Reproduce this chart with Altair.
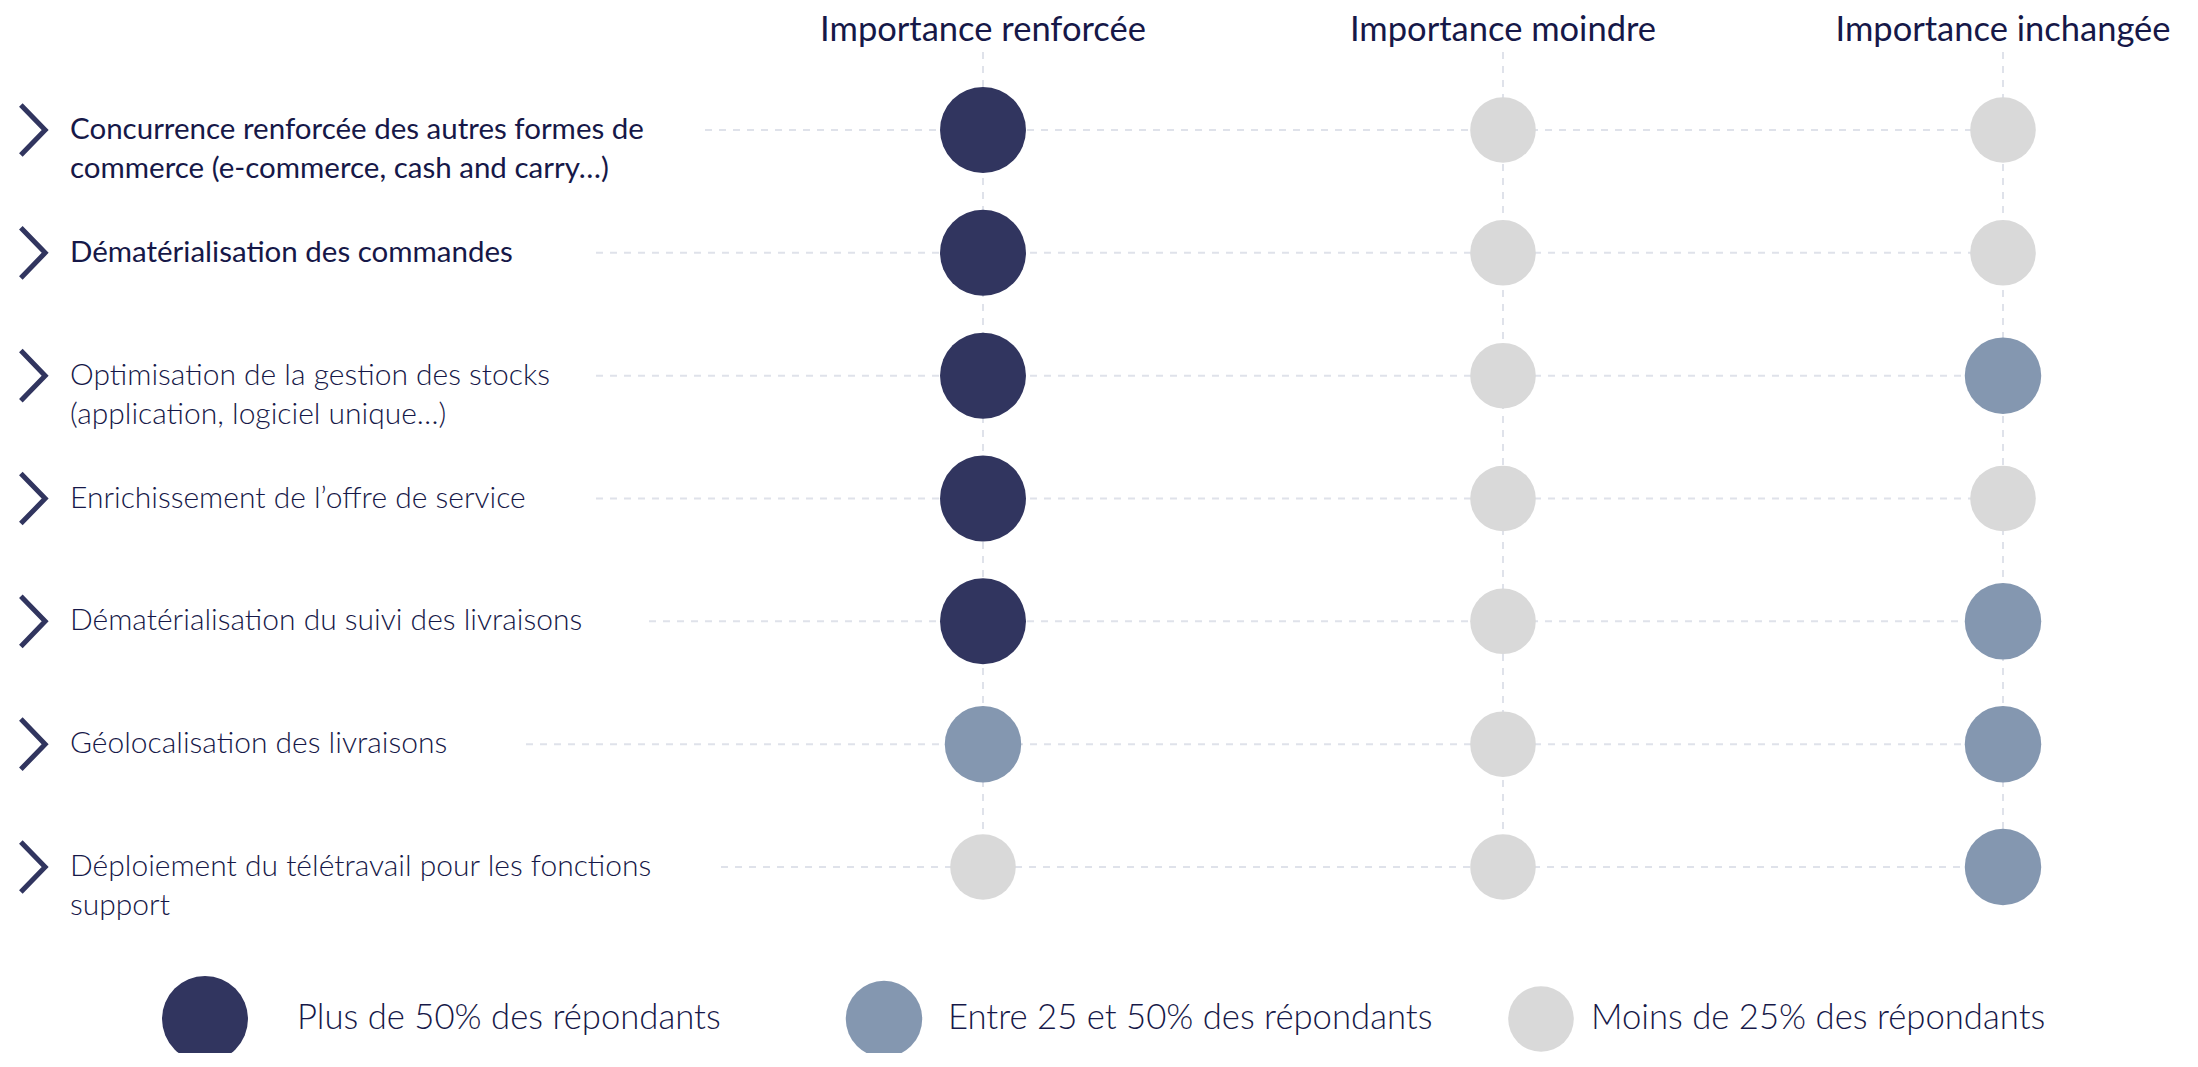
import altair as alt
import pandas as pd

# ---------------- data ----------------
COLUMNS = ["Importance renforcée", "Importance moindre", "Importance inchangée"]

ROW_LABELS = [
    ["Concurrence renforcée des autres formes de", "commerce (e-commerce, cash and carry…)"],
    ["Dématérialisation des commandes"],
    ["Optimisation de la gestion des stocks", "(application, logiciel unique…)"],
    ["Enrichissement de l’offre de service"],
    ["Dématérialisation du suivi des livraisons"],
    ["Géolocalisation des livraisons"],
    ["Déploiement du télétravail pour les fonctions", "support"],
]
HIGHLIGHTED = [True, True, False, False, False, False, False]

LEVELS = [
    "Plus de 50% des répondants",
    "Entre 25 et 50% des répondants",
    "Moins de 25% des répondants",
]
HIGH, MID, LOW = LEVELS

RENFORCEE = [HIGH, HIGH, HIGH, HIGH, HIGH, MID, LOW]
MOINDRE = [LOW, LOW, LOW, LOW, LOW, LOW, LOW]
INCHANGEE = [LOW, LOW, MID, LOW, MID, MID, MID]

# ---------------- style / layout ----------------
W, H = 2180, 1045
FONT = "Lato"
TEXT_COLOR = "#161848"
LEVEL_COLORS = ["#31355f", "#8497b0", "#d9d9d9"]
LEVEL_SIZES = [7390, 4301, 2124]
GRID_COLOR = "#dfe2ea"
COL_X = [975, 1495, 1995]
ROW_Y = [122, 859]
LINE_START = [697, 588, 588, 588, 641, 518, 713]
LEGEND_CIRCLE_X = [197, 876, 1533]
LEGEND_TEXT_X = [289, 940, 1583]
LEGEND_Y = 1011
HEADER_Y = 23
VLINE_TOP = 44

n_rows = len(ROW_LABELS)
rows_df = pd.DataFrame({
    "ri": list(range(n_rows)),
    "label": ROW_LABELS,
    "hl": HIGHLIGHTED,
    "start": LINE_START,
})

cells = []
for ci, vals in enumerate([RENFORCEE, MOINDRE, INCHANGEE]):
    for ri, v in enumerate(vals):
        cells.append({"ri": ri, "col": ci, "level": v})
cells_df = pd.DataFrame(cells)

cols_df = pd.DataFrame({"col": list(range(len(COLUMNS))), "name": COLUMNS})
legend_df = pd.DataFrame({"idx": list(range(len(LEVELS))), "level": LEVELS})

y_scale = alt.Scale(domain=[0, n_rows - 1], range=ROW_Y)
col_scale = alt.Scale(domain=[0, 1, 2], range=COL_X)
color_scale = alt.Scale(domain=LEVELS, range=LEVEL_COLORS)
size_scale = alt.Scale(domain=LEVELS, range=LEVEL_SIZES)

Y = alt.Y("ri:Q", scale=y_scale, axis=None)

hrules = alt.Chart(rows_df).mark_rule(
    color=GRID_COLOR, strokeWidth=2, strokeDash=[7, 7]
).encode(
    x=alt.X("start:Q", scale=None, axis=None),
    x2=alt.value(COL_X[-1]),
    y=Y,
)

vrules = alt.Chart(cols_df).mark_rule(
    color=GRID_COLOR, strokeWidth=2, strokeDash=[7, 7]
).encode(
    x=alt.X("col:Q", scale=col_scale, axis=None),
    y=alt.value(VLINE_TOP),
    y2=alt.value(ROW_Y[1]),
)

circles = alt.Chart(cells_df).mark_circle(opacity=1).encode(
    x=alt.X("col:Q", scale=col_scale, axis=None),
    y=Y,
    color=alt.Color("level:N", scale=color_scale, legend=None),
    size=alt.Size("level:N", scale=size_scale, legend=None),
)

headers = alt.Chart(cols_df).mark_text(
    font=FONT, fontSize=34.5, fontWeight=400, color=TEXT_COLOR,
    align="center", baseline="middle",
).encode(
    x=alt.X("col:Q", scale=col_scale, axis=None),
    y=alt.value(HEADER_Y),
    text="name:N",
)

label_base = alt.Chart(rows_df)
labels_hl = label_base.transform_filter("datum.hl").mark_text(
    font=FONT, fontSize=29.5, fontWeight=400, color=TEXT_COLOR,
    align="left", baseline="middle", lineHeight=39,
).encode(x=alt.value(62), y=Y, text="label")
labels_lt = label_base.transform_filter("!datum.hl").mark_text(
    font=FONT, fontSize=30, fontWeight=300, color=TEXT_COLOR,
    align="left", baseline="middle", lineHeight=39,
).encode(x=alt.value(62), y=Y, text="label")

chevrons = alt.Chart(rows_df).mark_point(
    shape="M-0.45,-0.93L0.45,0L-0.45,0.93",
    filled=False, stroke="#31355f", strokeWidth=5, opacity=1,
    strokeJoin="miter", strokeCap="butt",
).encode(x=alt.value(25), y=Y, size=alt.value(2916))

legend_circles = alt.Chart(legend_df).mark_circle(opacity=1).encode(
    x=alt.X("idx:Q", scale=alt.Scale(domain=[0, 1, 2], range=LEGEND_CIRCLE_X), axis=None),
    y=alt.value(LEGEND_Y),
    color=alt.Color("level:N", scale=color_scale, legend=None),
    size=alt.Size("level:N", scale=size_scale, legend=None),
)
legend_text = alt.Chart(legend_df).mark_text(
    font=FONT, fontSize=34.7, fontWeight=300, color=TEXT_COLOR,
    align="left", baseline="middle",
).encode(
    x=alt.X("idx:Q", scale=alt.Scale(domain=[0, 1, 2], range=LEGEND_TEXT_X), axis=None),
    y=alt.value(LEGEND_Y),
    text="level:N",
)

chart = alt.layer(
    hrules, vrules, circles, headers, labels_hl, labels_lt, chevrons,
    legend_circles, legend_text,
).resolve_scale(x="independent").properties(
    width=W, height=H, padding=0, autosize=alt.AutoSizeParams(type="none"),
).configure_view(stroke=None)

chart.save("out.html", embed_options={"renderer": "svg", "actions": False})
